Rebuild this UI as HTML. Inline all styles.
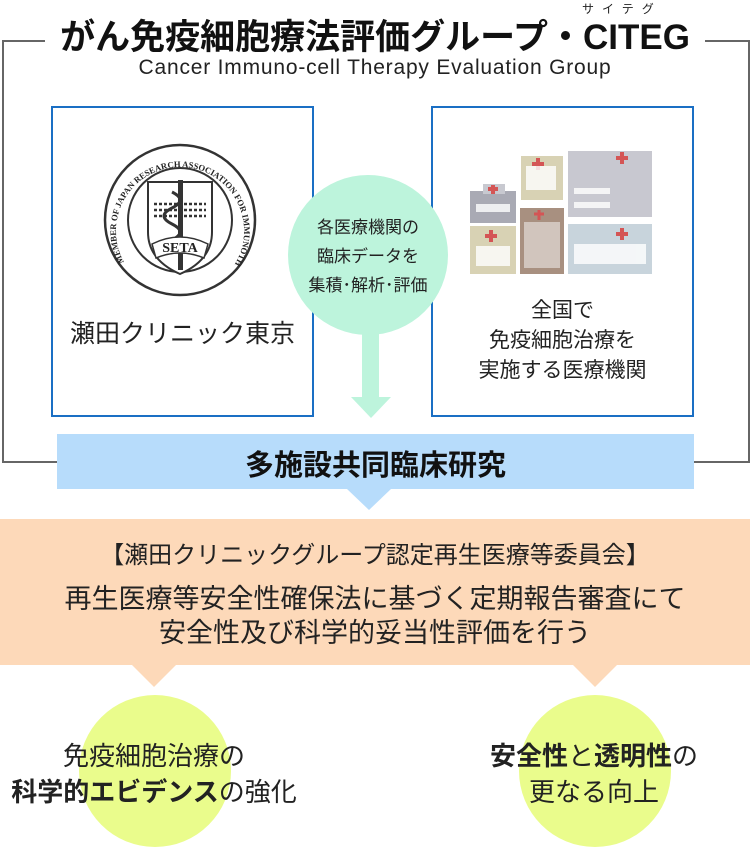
<!DOCTYPE html>
<html><head><meta charset="utf-8"><style>
body{margin:0;width:750px;height:855px;background:#fff;position:relative;overflow:hidden;font-family:"Liberation Sans","Noto Sans CJK JP",sans-serif;color:#222}
.a{position:absolute}
.c{text-align:center}
</style></head><body>
<div class="a" style="left:2px;top:40px;width:744px;height:419px;border:2px solid #666;border-top-width:2px"></div>
<div class="a" style="left:45px;top:10px;width:660px;height:50px;background:#fff"></div>
<div class="a c" style="left:0;top:9px;width:750px;font-size:35px;font-weight:bold;color:#111;letter-spacing:0px;white-space:nowrap">がん免疫細胞療法評価グループ・CITEG</div>
<div class="a" style="left:582px;top:0;font-size:12px;letter-spacing:8px;color:#222">サイテグ</div>
<div class="a c" style="left:0;top:56px;width:750px;font-size:21px;letter-spacing:0.8px;color:#222;white-space:nowrap">Cancer Immuno-cell Therapy Evaluation Group</div>

<div class="a" style="left:51px;top:106px;width:259px;height:307px;border:2px solid #1a6fc4;background:#fff"></div>
<div class="a" style="left:431px;top:106px;width:259px;height:307px;border:2px solid #1a6fc4;background:#fff"></div>

<svg class="a" style="left:102px;top:142px" width="156" height="156" viewBox="0 0 156 156">
<circle cx="78" cy="78" r="75" fill="none" stroke="#333" stroke-width="2.5"/>
<circle cx="78" cy="78" r="52" fill="none" stroke="#333" stroke-width="2"/>
<path d="M46 40 L110 40 L110 90 Q110 118 78 132 Q46 118 46 90Z" fill="#fff" stroke="#333" stroke-width="2"/>
<path d="M52 62 h52 M52 68 h52 M52 74 h52" stroke="#333" stroke-width="2.5" stroke-dasharray="3 2"/>
<rect x="76" y="38" width="5" height="90" fill="#333"/>
<path d="M70 50 q16 8 0 16 q-16 8 0 16 q16 8 0 16" stroke="#333" stroke-width="3" fill="none"/>
<path d="M50 102 Q78 88 106 102 L102 116 Q78 106 54 116Z" fill="#fff" stroke="#333" stroke-width="1.5"/>
<text x="78" y="110" text-anchor="middle" font-family="Liberation Serif,serif" font-weight="bold" font-size="14" fill="#222">SETA</text>
<path id="arc" d="M22 120 A64 64 0 1 1 134 120" fill="none"/>
<text font-family="Liberation Serif,serif" font-size="8.6" font-weight="bold" fill="#222"><textPath href="#arc">MEMBER OF JAPAN RESEARCH ASSOCIATION FOR IMMUNOTHERAPEUTICS</textPath></text>
</svg>
<div class="a c" style="left:52px;top:314px;width:261px;font-size:25px;color:#222">瀬田クリニック東京</div>

<svg class="a" style="left:468px;top:146px" width="200" height="130">
<rect x="2" y="45" width="46" height="32" fill="#a9aab4"/><rect x="15" y="38" width="22" height="10" fill="#c8c9d0"/><path d="M20 43h10M25 39v9" stroke="#d45555" stroke-width="4"/>
<rect x="53" y="10" width="42" height="44" fill="#d8d2b4"/><path d="M64 18h12M70 12v12" stroke="#d45555" stroke-width="4"/>
<rect x="100" y="5" width="84" height="66" fill="#c8c8d0"/><path d="M148 12h12M154 6v12" stroke="#d45555" stroke-width="4"/>
<rect x="2" y="80" width="46" height="48" fill="#d8d2b4"/><path d="M17 90h12M23 84v12" stroke="#d45555" stroke-width="4"/>
<rect x="52" y="62" width="44" height="66" fill="#a89080"/><path d="M66 68h10M71 64v10" stroke="#d45555" stroke-width="3"/>
<rect x="100" y="78" width="84" height="50" fill="#c8d4dc"/><path d="M148 88h12M154 82v12" stroke="#d45555" stroke-width="4"/>
<g fill="#fff" opacity=".8"><rect x="58" y="20" width="30" height="24" /><rect x="106" y="42" width="36" height="6"/><rect x="106" y="56" width="36" height="6"/><rect x="8" y="58" width="34" height="8"/><rect x="8" y="100" width="34" height="20"/><rect x="56" y="76" width="36" height="46" opacity=".6"/><rect x="106" y="98" width="72" height="20"/></g>
</svg>
<div class="a c" style="left:432px;top:296px;width:261px;font-size:21px;line-height:30px;color:#222">全国で<br>免疫細胞治療を<br>実施する医療機関</div>

<div class="a" style="left:288px;top:175px;width:160px;height:160px;border-radius:50%;background:#bdf4dc"></div>
<div class="a" style="left:362px;top:330px;width:17px;height:68px;background:#bdf4dc"></div>
<div class="a" style="left:351px;top:397px;width:0;height:0;border-left:20px solid transparent;border-right:20px solid transparent;border-top:21px solid #bdf4dc"></div>
<div class="a c" style="left:283px;top:213px;width:170px;font-size:17px;line-height:29px;color:#222">各医療機関の<br>臨床データを<br>集積･解析･評価</div>

<div class="a" style="left:57px;top:434px;width:637px;height:55px;background:#b7dcfb"></div>
<div class="a" style="left:347px;top:489px;width:0;height:0;border-left:22px solid transparent;border-right:22px solid transparent;border-top:21px solid #b7dcfb"></div>
<div class="a c" style="left:57px;top:442px;width:637px;font-size:29px;font-weight:bold;color:#111">多施設共同臨床研究</div>

<div class="a" style="left:0;top:519px;width:750px;height:146px;background:#fdd9b9"></div>
<div class="a" style="left:132px;top:665px;width:0;height:0;border-left:22px solid transparent;border-right:22px solid transparent;border-top:22px solid #fdd9b9"></div>
<div class="a" style="left:573px;top:665px;width:0;height:0;border-left:22px solid transparent;border-right:22px solid transparent;border-top:22px solid #fdd9b9"></div>
<div class="a c" style="left:0;top:535px;width:750px;font-size:24px;color:#222;white-space:nowrap">【瀬田クリニックグループ認定再生医療等委員会】</div>
<div class="a c" style="left:0;top:582px;width:750px;font-size:27px;line-height:34px;color:#222;white-space:nowrap">再生医療等安全性確保法に基づく定期報告審査にて<br>安全性及び科学的妥当性評価を行う</div>

<div class="a" style="left:79px;top:695px;width:152px;height:152px;border-radius:50%;background:#eafc8c"></div>
<div class="a" style="left:519px;top:695px;width:152px;height:152px;border-radius:50%;background:#eafc8c"></div>
<div class="a c" style="left:0;top:738px;width:308px;font-size:26px;line-height:36px;color:#222;white-space:nowrap">免疫細胞治療の<br><b>科学的エビデンス</b>の強化</div>
<div class="a c" style="left:444px;top:738px;width:300px;font-size:26px;line-height:36px;color:#222"><b>安全性</b>と<b>透明性</b>の<br>更なる向上</div>
</body></html>
